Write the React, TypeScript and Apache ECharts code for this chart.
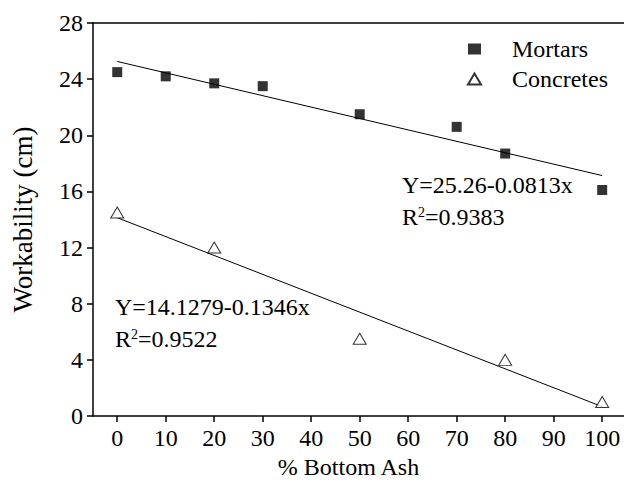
import React, { useEffect, useRef } from "react";
import * as echarts from "echarts";

const mortarX = [0, 10, 20, 30, 50, 70, 80, 100];
const mortarY = [24.5, 24.2, 23.7, 23.5, 21.5, 20.6, 18.7, 16.1];
const concreteX = [0, 20, 50, 80, 100];
const concreteY = [14.5, 12.0, 5.5, 4.0, 1.0];
const mortarFit = [[0, 25.26], [100, 17.13]];
const concreteFit = [[0, 14.1279], [100, 0.6679]];
const xTicks = [0, 10, 20, 30, 40, 50, 60, 70, 80, 90, 100];
const mortarEq = ["Y=25.26-0.0813x", "0.9383"];
const concreteEq = ["Y=14.1279-0.1346x", "0.9522"];

const FONT = "Liberation Serif";

export default function App() {
  const ref = useRef<HTMLDivElement>(null);
  useEffect(() => {
    if (!ref.current) return;
    const chart = echarts.init(ref.current, undefined, { renderer: "svg" });
    const eqText = (x: number, y: number, eq: string[]) => [
      {
        type: "text",
        left: x,
        top: y,
        style: { text: eq[0], fontSize: 24, fontFamily: FONT, fill: "#000" },
      },
      {
        type: "text",
        left: x,
        top: y + 32,
        style: {
          text: `{a|R}{s|2}{a|=${eq[1]}}`,
          rich: {
            a: { fontSize: 24, fontFamily: FONT, color: "#000" },
            s: { fontSize: 14, fontFamily: FONT, color: "#000", verticalAlign: "top", padding: [0, 0, 10, 0] },
          },
        },
      },
    ];
    chart.setOption({
      animation: false,
      backgroundColor: "#fff",
      textStyle: { fontFamily: FONT, color: "#000" },
      grid: { left: 93, right: 0, top: 23, bottom: 68 },
      legend: {
        data: ["Mortars", "Concretes"],
        orient: "vertical",
        left: 462,
        top: 32,
        itemWidth: 13,
        itemHeight: 11,
        itemGap: 6,
        textStyle: { fontSize: 24, fontFamily: FONT, color: "#000", padding: [0, 0, 0, 26] },
      },
      xAxis: [
        {
          type: "value",
          min: -5,
          max: 104.5,
          name: "% Bottom Ash",
          nameLocation: "middle",
          nameGap: 36,
          nameTextStyle: { fontSize: 24, fontFamily: FONT, color: "#000", padding: [0, 20, 0, 0] },
          axisLine: { show: true, onZero: false, lineStyle: { color: "#000", width: 1.5 } },
          axisTick: { show: true, length: 6, lineStyle: { color: "#000", width: 1.5 }, customValues: xTicks },
          axisLabel: { fontSize: 24, fontFamily: FONT, color: "#000", margin: 10, customValues: xTicks },
          splitLine: { show: false },
        },
        {
          type: "value",
          position: "top",
          min: -5,
          max: 104.5,
          axisLine: { show: true, onZero: false, lineStyle: { color: "#000", width: 1.5 } },
          axisTick: { show: false },
          axisLabel: { show: false },
          splitLine: { show: false },
        },
      ],
      yAxis: {
        type: "value",
        min: 0,
        max: 28,
        interval: 4,
        name: "Workability (cm)",
        nameLocation: "middle",
        nameGap: 57,
        nameTextStyle: { fontSize: 27, fontFamily: FONT, color: "#000" },
        axisLine: { show: true, onZero: false, lineStyle: { color: "#000", width: 1.5 } },
        axisTick: { show: true, length: 6, lineStyle: { color: "#000", width: 1.5 } },
        axisLabel: { fontSize: 24, fontFamily: FONT, color: "#000", margin: 10 },
        splitLine: { show: false },
      },
      series: [
        {
          name: "Mortars",
          type: "scatter",
          symbol: "rect",
          symbolSize: 10,
          itemStyle: { color: "#000" },
          data: mortarX.map((x, i) => [x, mortarY[i]]),
          z: 3,
        },
        {
          name: "Concretes",
          type: "scatter",
          symbol: "triangle",
          symbolSize: [13, 11],
          itemStyle: { color: "#fff", borderColor: "#000", borderWidth: 1 },
          data: concreteX.map((x, i) => [x, concreteY[i]]),
          z: 3,
        },
        {
          name: "MortarFit",
          type: "line",
          symbol: "none",
          lineStyle: { color: "#000", width: 1 },
          data: mortarFit,
          z: 2,
        },
        {
          name: "ConcreteFit",
          type: "line",
          symbol: "none",
          lineStyle: { color: "#000", width: 1 },
          data: concreteFit,
          z: 2,
        },
      ],
      graphic: [...eqText(402, 173, mortarEq), ...eqText(115, 295, concreteEq)],
    });
    return () => chart.dispose();
  }, []);
  return (
    <div
      ref={ref}
      style={{ position: "fixed", left: 0, top: 0, width: 624, height: 484, background: "#fff" }}
    />
  );
}
